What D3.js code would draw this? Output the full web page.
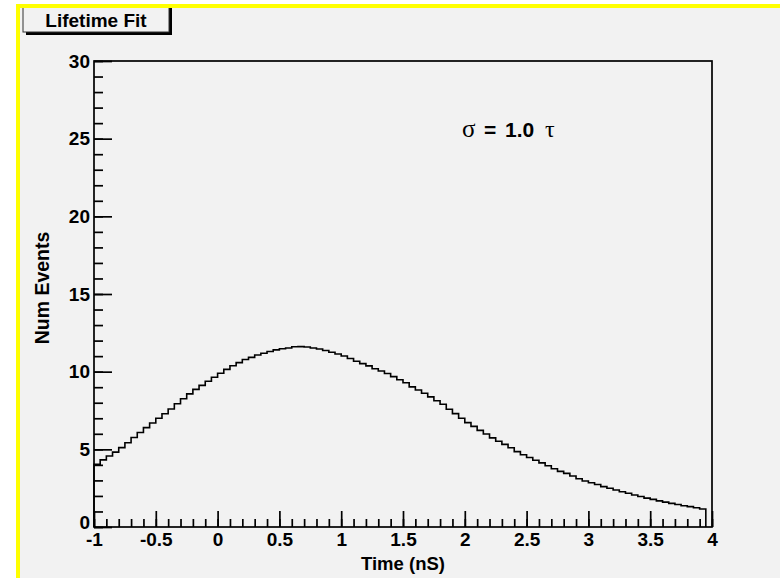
<!DOCTYPE html>
<html>
<head>
<meta charset="utf-8">
<script src="https://cdn.jsdelivr.net/npm/d3@7"></script>
<style>
  body { margin: 0; background: #fff; overflow: hidden; }
  svg { display: block; }
  text { font-family: "Liberation Sans", Arial, Helvetica, sans-serif; font-weight: bold; fill: #000; }
</style>
</head>
<body>
<div id="chart"></div>
<script>
// histogram: 99 bins of width 0.05 starting at -1
const binStart = -1;
const binWidth = 0.05;
const counts = [
  4.04, 4.32, 4.57, 4.82, 5.11, 5.42, 5.76, 6.08, 6.40, 6.70,
  7.00, 7.29, 7.60, 7.93, 8.26, 8.57, 8.86, 9.12, 9.38, 9.64,
  9.90, 10.15, 10.38, 10.58, 10.78, 10.92, 11.07, 11.19, 11.30, 11.40,
  11.48, 11.52, 11.60, 11.61, 11.59, 11.52, 11.46, 11.36, 11.25, 11.14,
  11.01, 10.85, 10.67, 10.52, 10.37, 10.19, 10.04, 9.88, 9.68, 9.48,
  9.29, 9.02, 8.82, 8.61, 8.38, 8.13, 7.90, 7.58, 7.30, 7.00,
  6.72, 6.48, 6.22, 5.99, 5.74, 5.52, 5.32, 5.10, 4.85, 4.65,
  4.47, 4.30, 4.13, 3.94, 3.75, 3.58, 3.45, 3.28, 3.11, 2.96,
  2.85, 2.74, 2.60, 2.49, 2.38, 2.27, 2.17, 2.06, 1.96, 1.86,
  1.78, 1.68, 1.60, 1.52, 1.45, 1.37, 1.31, 1.24, 1.16
];
const xMajor = [-1, -0.5, 0, 0.5, 1, 1.5, 2, 2.5, 3, 3.5, 4];
const yMajor = [0, 5, 10, 15, 20, 25, 30];
const title = "Lifetime Fit";
const xTitle = "Time (nS)";
const yTitle = "Num Events";

const W = 780, H = 578;
const svg = d3.select("#chart").append("svg").attr("width", W).attr("height", H);

// canvas: yellow border on top and left, light grey fill
svg.append("rect").attr("x", 16).attr("y", 4).attr("width", W - 16).attr("height", H - 4).attr("fill", "#ffff00");
svg.append("rect").attr("x", 20).attr("y", 8).attr("width", W - 20).attr("height", H - 8).attr("fill", "#f2f2f2");

const x = d3.scaleLinear().domain([-1, 4]).range([94, 712]);
const y = d3.scaleLinear().domain([0, 30]).range([527, 61]);

// frame
svg.append("rect")
  .attr("x", x(-1)).attr("y", y(30))
  .attr("width", x(4) - x(-1)).attr("height", y(0) - y(30))
  .attr("fill", "none").attr("stroke", "#000").attr("stroke-width", 1.7);

// histogram as a step line
const pts = counts.map((c, i) => [binStart + i * binWidth, c]);
const lastEdge = binStart + counts.length * binWidth;
pts.push([lastEdge, counts[counts.length - 1]]);
const line = d3.line().x(d => x(d[0])).y(d => y(d[1])).curve(d3.curveStepAfter);
svg.append("path")
  .attr("d", line([[binStart, 0], ...pts, [lastEdge, 0]]))
  .attr("fill", "none").attr("stroke", "#000").attr("stroke-width", 1.6);

// axes
const fmt = d => String(d);
const xAxis = svg.append("g").attr("transform", `translate(0,${y(0)})`)
  .call(d3.axisBottom(x).tickValues(xMajor).tickSize(-16).tickSizeOuter(0).tickPadding(6).tickFormat(fmt));
const xMinor = svg.append("g").attr("transform", `translate(0,${y(0)})`)
  .call(d3.axisBottom(x).tickValues(d3.range(0, 51).map(i => -1 + i * 0.1)).tickSize(-8).tickSizeOuter(0).tickFormat(""));
const yAxis = svg.append("g").attr("transform", `translate(${x(-1)},0)`)
  .call(d3.axisLeft(y).tickValues(yMajor).tickSize(-18).tickSizeOuter(0).tickPadding(4).tickFormat(fmt));
const yMinor = svg.append("g").attr("transform", `translate(${x(-1)},0)`)
  .call(d3.axisLeft(y).tickValues(d3.range(0, 31)).tickSize(-9).tickSizeOuter(0).tickFormat(""));

[xAxis, xMinor, yAxis, yMinor].forEach(g => {
  g.select(".domain").remove();
  g.selectAll("line").attr("stroke", "#000").attr("stroke-width", 1.7);
  g.selectAll("text").attr("font-size", 19).attr("font-family", null).attr("fill", "#000");
});
// the "0" of the y axis sits just above the "-1" of the x axis
yAxis.selectAll(".tick text").filter(d => d === 0).attr("dy", "0.1em");

// axis titles
svg.append("text").attr("x", (x(-1) + x(4)) / 2).attr("y", 570)
  .attr("text-anchor", "middle").attr("font-size", 18.5).text(xTitle);
svg.append("text").attr("transform", `translate(49,288) rotate(-90)`)
  .attr("text-anchor", "middle").attr("font-size", 19.5).text(yTitle);

// title box with shadow
svg.append("rect").attr("x", 26).attr("y", 8).attr("width", 146).attr("height", 27).attr("fill", "#000");
svg.append("rect").attr("x", 23).attr("y", 5).attr("width", 146).attr("height", 27)
  .attr("fill", "#f2f2f2").attr("stroke", "#333").attr("stroke-width", 1);
svg.append("rect").attr("x", 16).attr("y", 4).attr("width", W - 16).attr("height", 4).attr("fill", "#ffff00");
svg.append("text").attr("x", 96).attr("y", 27).attr("text-anchor", "middle")
  .attr("font-size", 19).text(title);

// annotation
const note = svg.append("text").attr("y", 137).attr("font-size", 21);
note.append("tspan").attr("x", 462).attr("font-family", "'Liberation Serif', 'DejaVu Serif', serif")
  .attr("font-weight", "normal").attr("font-size", 25).text("σ");
note.append("tspan").attr("x", 484).text("=");
note.append("tspan").attr("x", 505).text("1.0");
note.append("tspan").attr("x", 545).attr("font-family", "'Liberation Serif', 'DejaVu Serif', serif")
  .attr("font-weight", "normal").attr("font-size", 24).text("τ");
</script>
</body>
</html>
